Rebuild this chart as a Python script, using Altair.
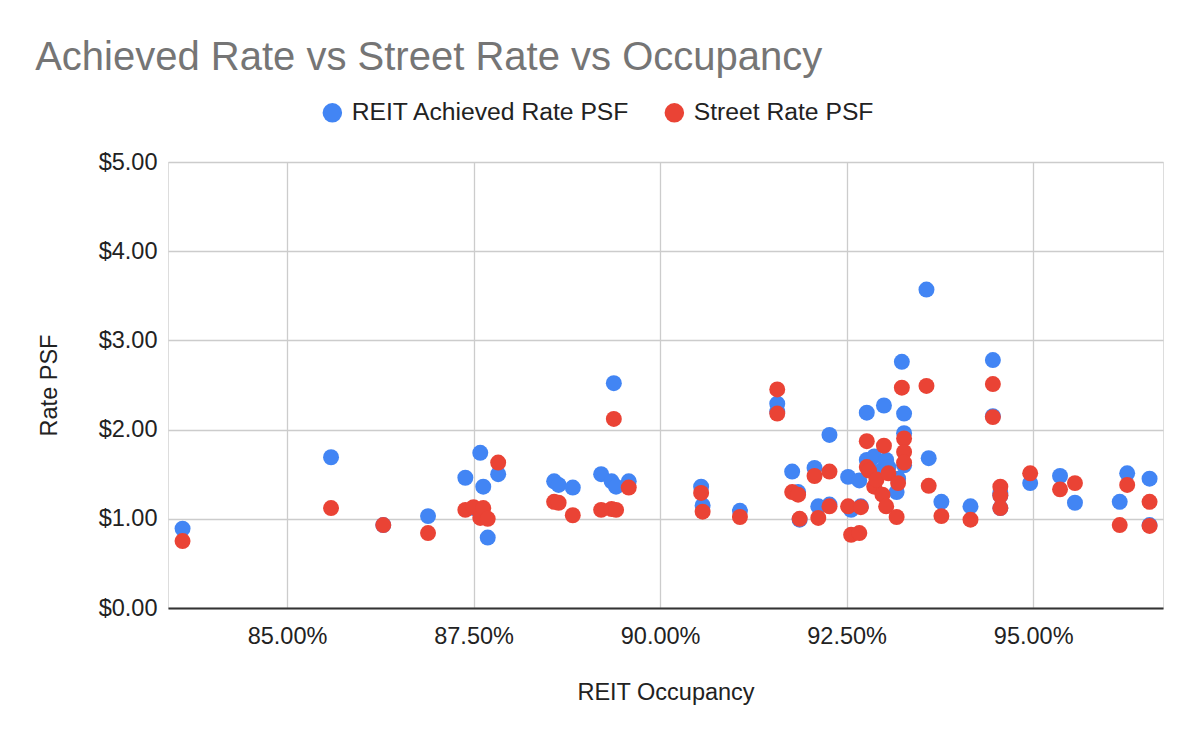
import altair as alt
import pandas as pd

# REIT occupancy (%), achieved rate PSF ($), street rate PSF ($)
occupancy = [83.60, 85.59, 86.29, 86.89, 87.39, 87.50, 87.59, 87.63, 87.69, 87.83,
             88.58, 88.64, 88.83, 89.21, 89.35, 89.38, 89.41, 89.58, 90.55, 90.57,
             91.07, 91.57, 91.57, 91.77, 91.85, 91.87, 92.07, 92.12, 92.27, 92.27,
             92.52, 92.56, 92.67, 92.69, 92.77, 92.77, 92.80, 92.87, 92.90, 92.98,
             93.00, 93.03, 93.06, 93.17, 93.19, 93.24, 93.27, 93.27, 93.27, 93.57,
             93.60, 93.77, 94.16, 94.46, 94.46, 94.56, 94.56, 94.56, 94.96, 95.36,
             95.56, 96.16, 96.26, 96.56, 96.56]
achieved = [0.89, 1.69, 0.93, 1.03, 1.46, 1.12, 1.74, 1.36, 0.79, 1.50,
            1.42, 1.38, 1.35, 1.50, 1.42, 2.52, 1.36, 1.42, 1.36, 1.15,
            1.09, 2.29, 2.20, 1.53, 1.30, 0.99, 1.57, 1.14, 1.94, 1.16,
            1.47, 1.10, 1.43, 1.14, 2.19, 1.66, 1.62, 1.70, 1.48, 1.55,
            2.27, 1.66, 1.58, 1.30, 1.45, 2.76, 2.18, 1.96, 1.60, 3.57,
            1.68, 1.19, 1.14, 2.78, 2.15, 1.29, 1.26, 1.12, 1.40, 1.48,
            1.18, 1.19, 1.51, 1.45, 0.93]
street = [0.75, 1.12, 0.93, 0.84, 1.10, 1.13, 1.01, 1.12, 1.00, 1.63,
          1.19, 1.18, 1.04, 1.10, 1.11, 2.12, 1.10, 1.35, 1.29, 1.08,
          1.02, 2.45, 2.18, 1.30, 1.27, 1.00, 1.48, 1.01, 1.53, 1.14,
          1.14, 0.82, 0.84, 1.13, 1.87, 1.58, 1.54, 1.36, 1.44, 1.27,
          1.82, 1.14, 1.51, 1.02, 1.40, 2.47, 1.90, 1.75, 1.63, 2.49,
          1.37, 1.03, 0.99, 2.51, 2.14, 1.36, 1.26, 1.12, 1.51, 1.33,
          1.40, 0.93, 1.38, 1.19, 0.92]

series_names = ["REIT Achieved Rate PSF", "Street Rate PSF"]
series_colors = ["#4285F4", "#EA4335"]
x_ticks = [0.85, 0.875, 0.90, 0.925, 0.95]
y_ticks = [0, 1, 2, 3, 4, 5]

rows = []
for name, vals in zip(series_names, [achieved, street]):
    for o, v in zip(occupancy, vals):
        rows.append({"occ": o / 100.0, "series": name, "rate": v})
df = pd.DataFrame(rows)
df["order"] = range(len(df))

FONT = "Liberation Sans"
FS = 23.5

chart = alt.Chart(df).mark_circle(size=255, opacity=1).encode(
    x=alt.X("occ:Q",
            scale=alt.Scale(domain=[0.83405, 0.9674], nice=False, zero=False),
            axis=alt.Axis(values=x_ticks, format=".2%", title="REIT Occupancy",
                          grid=True, gridColor="#cccccc", gridWidth=1.3,
                          domain=True, domainColor="#333333", domainWidth=2,
                          ticks=False, labelPadding=16, labelFontSize=FS,
                          labelColor="#222222", titleFontSize=FS, titleColor="#222222",
                          titleFontWeight="normal", titlePadding=33,
                          labelFont=FONT, titleFont=FONT)),
    y=alt.Y("rate:Q",
            scale=alt.Scale(domain=[0, 5], nice=False),
            axis=alt.Axis(values=y_ticks, format="$.2f", title="Rate PSF",
                          grid=True, gridColor="#cccccc", gridWidth=1.3,
                          domain=False, ticks=False, labelPadding=11,
                          labelFontSize=FS, labelColor="#222222",
                          titleFontSize=FS, titleColor="#222222",
                          titleFontWeight="normal", titlePadding=37,
                          labelFont=FONT, titleFont=FONT)),
    color=alt.Color("series:N",
                    scale=alt.Scale(domain=series_names, range=series_colors),
                    legend=alt.Legend(title=None, orient="none", direction="horizontal",
                                      legendX=152, legendY=-62, symbolType="circle",
                                      symbolSize=380, symbolOpacity=1,
                                      symbolStrokeWidth=0, labelFontSize=24.7,
                                      labelFont=FONT, labelColor="#222222",
                                      labelLimit=0, columnPadding=31, labelOffset=7)),
    order=alt.Order("order:Q"),
).properties(
    width=995,
    height=446,
    title=alt.TitleParams("Achieved Rate vs Street Rate vs Occupancy",
                          anchor="start", fontSize=40, color="#757575",
                          font=FONT, fontWeight="normal", dx=-2, offset=22),
    autosize=alt.AutoSizeParams(type="none"),
    padding={"left": 160, "top": 154, "right": 20, "bottom": 110},
).configure_view(stroke=None).configure(background="white")

chart.save("out.html", embed_options={"renderer": "svg", "actions": False})
